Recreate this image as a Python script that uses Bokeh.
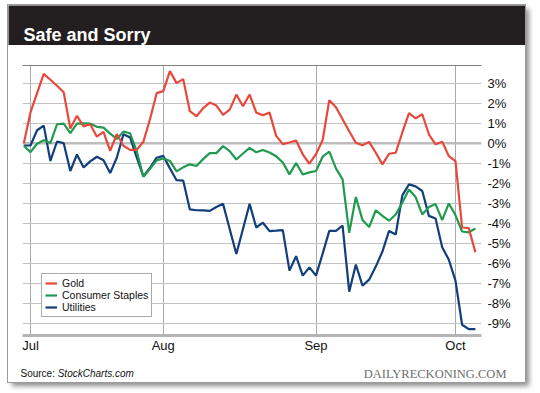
from bokeh.plotting import figure
from bokeh.layouts import column
from bokeh.models import (Range1d, FixedTicker, LinearAxis, Span, Label,
                          Legend, LegendItem, ColumnDataSource, PrintfTickFormatter)
from bokeh.embed import file_html
from bokeh.resources import INLINE

# ---- data (percent change, trading-day index starting Jun 30) ----
trading_day = list(range(69))
month_ticks = [1, 21, 44, 65]
month_labels = ["Jul", "Aug", "Sep", "Oct"]
pct_ticks = list(range(-9, 4))

gold = [0.0, 1.54, 2.5, 3.46, 3.17, 2.87, 2.55, 0.74, 1.37, 0.84,
        0.95, 0.33, 0.57, -0.38, 0.46, -0.12, -0.33, -0.33, 0.08, 1.2,
        2.5, 2.6, 3.6, 3.0, 3.2, 1.6, 1.35, 1.75, 2.03, 1.88,
        1.42, 1.68, 2.43, 1.85, 2.43, 1.53, 1.4, 1.53, 0.37, -0.04,
        0.04, 0.14, -0.55, -1.02, -0.54, 0.16, 2.15, 1.8, 1.2, 0.6,
        0.03, -0.1, 0.07, -0.47, -1.05, -0.52, -0.47, 0.54, 1.5, 1.24,
        1.45, 0.45, -0.05, 0.08, -0.64, -0.89, -4.2, -4.23, -5.43]

staples = [-0.12, -0.44, -0.02, 0.15, 0.01, 0.95, 0.98, 0.51, 0.98, 0.99,
           0.98, 0.82, 0.78, 0.48, 0.22, 0.58, 0.5, -0.4, -1.67, -1.27,
           -0.85, -0.75, -0.88, -1.4, -1.2, -1.05, -1.13, -0.79, -0.49, -0.49,
           -0.14, -0.39, -0.81, -0.51, -0.23, -0.45, -0.33, -0.46, -0.65, -0.96,
           -1.55, -0.98, -1.56, -1.45, -1.38, -0.67, -0.42, -1.25, -1.8, -4.47,
           -2.68, -3.83, -4.18, -3.34, -3.62, -3.86, -3.55, -2.95, -2.3, -2.68,
           -3.55, -3.18, -3.03, -3.83, -3.0, -3.58, -4.4, -4.44, -4.25]

utilities = [-0.11, -0.11, 0.65, 0.88, -0.88, 0.09, 0.01, -1.38, -0.56, -1.21,
             -0.9, -0.67, -0.85, -1.48, -0.72, 0.45, 0.29, -0.7, -1.65, -1.22,
             -0.72, -0.63, -1.25, -1.84, -1.86, -3.3, -3.34, -3.35, -3.37, -3.18,
             -3.02, -4.27, -5.52, -4.27, -3.02, -4.2, -3.96, -4.38, -4.36, -4.33,
             -6.35, -5.63, -6.6, -6.19, -6.6, -5.5, -4.37, -4.37, -4.1, -7.4,
             -6.05, -7.1, -6.8, -6.15, -5.4, -4.37, -4.55, -2.6, -2.05, -2.15,
             -2.38, -3.62, -3.75, -5.18, -5.81, -6.85, -9.05, -9.27, -9.27]

RED = "#e8483b"
GREEN = "#1f9a4f"
BLUE = "#123f7b"
FONT = "Liberation Sans"
CARD_W = 517


def strip(height, fill):
    f = figure(width=CARD_W, height=height, x_range=Range1d(0, 1), y_range=Range1d(0, 1),
               x_axis_type=None, y_axis_type=None, min_border=0,
               output_backend="svg", toolbar_location=None,
               background_fill_color=fill, border_fill_color=fill)
    f.outline_line_color = None
    f.xgrid.visible = False
    f.ygrid.visible = False
    f.frame_align = False
    return f


# ---- header ----
header = strip(40, "#231f20")
header.add_layout(Label(x=15, y=11, x_units="screen", y_units="screen", text="Safe and Sorry",
                        text_font=FONT, text_font_style="bold", text_font_size="18px",
                        text_color="white", text_baseline="alphabetic"))

# ---- main chart ----
src = ColumnDataSource(dict(day=trading_day, gold=gold, staples=staples, utilities=utilities))

p = figure(frame_width=459, frame_height=270,
           x_range=Range1d(-0.2, 68.92), y_range=Range1d(-9.586, 3.88),
           y_axis_location="right", output_backend="svg", toolbar_location=None,
           min_border_left=14, min_border_right=44, min_border_top=20, min_border_bottom=23,
           background_fill_color="white", border_fill_color="white")
p.outline_line_color = None
p.frame_align = False

p.xaxis.ticker = FixedTicker(ticks=month_ticks)
p.xaxis.major_label_overrides = {t: l for t, l in zip(month_ticks, month_labels)}
p.xaxis.axis_line_color = "#b5b5b5"
p.xaxis.axis_line_width = 3
p.xaxis.major_tick_line_color = None
p.xaxis.minor_tick_line_color = None
p.xaxis.major_tick_out = 0
p.xaxis.major_label_standoff = 2
p.xaxis.major_label_text_font = FONT
p.xaxis.major_label_text_font_size = "13px"
p.xaxis.major_label_text_color = "#111111"

p.yaxis.ticker = FixedTicker(ticks=pct_ticks)
p.yaxis.formatter = PrintfTickFormatter(format="%d%%")
p.yaxis.axis_line_color = None
p.yaxis.major_tick_line_color = None
p.yaxis.minor_tick_line_color = None
p.yaxis.major_tick_out = 0
p.yaxis.major_label_standoff = 6
p.yaxis.major_label_text_font = FONT
p.yaxis.major_label_text_font_size = "13px"
p.yaxis.major_label_text_color = "#111111"

top_axis = LinearAxis(ticker=FixedTicker(ticks=[]), axis_line_color="#808080",
                      axis_line_width=1, major_tick_line_color=None,
                      minor_tick_line_color=None, major_label_text_font_size="0px",
                      major_label_standoff=0, major_tick_out=0)
p.add_layout(top_axis, "above")

p.xgrid.grid_line_color = "#a8a8a8"
p.xgrid.grid_line_width = 1
p.ygrid.grid_line_color = "#c2c2c2"
p.ygrid.grid_line_width = 1
p.add_layout(Span(location=0, dimension="width", line_color="#bdbdbd",
                  line_width=2.5, level="underlay"))

r_u = p.line("day", "utilities", source=src, line_color=BLUE, line_width=2.2)
r_s = p.line("day", "staples", source=src, line_color=GREEN, line_width=2.2)
r_g = p.line("day", "gold", source=src, line_color=RED, line_width=2.2)

legend = Legend(items=[LegendItem(label="Gold", renderers=[r_g]),
                       LegendItem(label="Consumer Staples", renderers=[r_s]),
                       LegendItem(label="Utilities", renderers=[r_u])],
                location=(19, 18), padding=3, spacing=0, margin=0,
                label_height=12, glyph_height=12, glyph_width=12, label_standoff=5,
                label_text_font=FONT, label_text_font_size="10.5px",
                label_text_color="#111111",
                border_line_color="#555555", border_line_width=1,
                background_fill_color="white", background_fill_alpha=1)
p.add_layout(legend)

# ---- footer ----
footer = strip(24, "white")
footer.add_layout(Label(x=12, y=9, x_units="screen", y_units="screen", text="Source: ",
                        text_font=FONT, text_font_size="10px", text_color="#111111",
                        text_baseline="middle"))
footer.add_layout(Label(x=49.2, y=9, x_units="screen", y_units="screen",
                        text="StockCharts.com", text_font=FONT, text_font_style="italic",
                        text_font_size="10px", text_color="#111111",
                        text_baseline="middle"))
footer.add_layout(Label(x=498, y=9, x_units="screen", y_units="screen",
                        text="DAILYRECKONING.COM", text_font="Liberation Serif",
                        text_font_size="12.5px", text_color="#6e6e6e", text_align="right",
                        text_baseline="middle"))

card = column(header, p, footer, spacing=0, margin=(5, 0, 0, 8),
              styles={"box-shadow": "0 0 0 1px #9a9a9a, 4px 4px 5px rgba(0,0,0,0.45)",
                      "background-color": "white"})

open("out.html", "w").write(file_html(card, INLINE))
